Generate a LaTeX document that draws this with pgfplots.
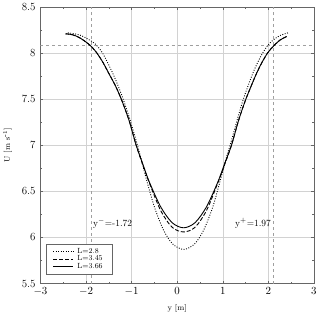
\documentclass[border=0pt]{standalone}
\usepackage{pgfplots}
\pgfplotsset{compat=1.18}
\begin{document}
\begin{tikzpicture}
\begin{axis}[
  scale only axis,
  width=274bp, height=277bp,
  xmin=-3, xmax=3, ymin=5.5, ymax=8.5,
  xtick={-3,-2,...,3}, ytick={5.5,6,...,8.5},
  yticklabels={5.5,6,6.5,7,7.5,8,8.5},
  minor x tick num=1, minor y tick num=1,
  tick align=inside, ticks=both,
  xtick pos=both, ytick pos=both,
  major tick length=3pt, minor tick length=2pt,
  grid=major,
  major grid style={gray!35, line width=0.5pt},
  axis line style={gray!80!black, line width=0.6pt},
  every tick/.style={gray!80!black},
  tick label style={font=\fontsize{11}{12}\selectfont},
  yticklabel style={xshift=-1.5pt},
  xticklabel style={yshift=-0.5pt},
  xlabel={y [m]}, ylabel={U [m s$^{\mbox{-}1}$]},
  label style={font=\fontsize{8}{9}\selectfont},
  xlabel style={yshift=-2pt},
  ylabel style={yshift=3pt},
  legend style={at={(0.022,0.032)}, anchor=south west, font=\fontsize{7.5}{8}\selectfont,
    draw=gray!80!black, fill=white, inner xsep=6pt, inner ysep=2.5pt, row sep=-3pt,
    nodes={inner xsep=4pt}},
  legend cell align=left,
  legend image code/.code={\draw[#1] (0bp,0bp) -- (20bp,0bp);},
]
% reference lines
\addplot[gray!75, dashed, line width=0.6pt, forget plot] coordinates {(-1.89,5.5) (-1.89,8.5)};
\addplot[gray!75, dashed, line width=0.6pt, forget plot] coordinates {(2.1,5.5) (2.1,8.5)};
\addplot[gray!75, dashed, line width=0.6pt, forget plot] coordinates {(-3,8.08) (3,8.08)};
% L=2.8
\addplot[black, dash pattern=on 0.9pt off 1.6pt, line width=0.9pt, smooth] coordinates {
(-2.4,8.22) (-2.25,8.21) (-2.1,8.19) (-1.95,8.15) (-1.8,8.1) (-1.65,8.01) (-1.5,7.87) (-1.35,7.71) (-1.2,7.52) (-1.05,7.3) (-0.9,7.05)
(-0.78,6.83) (-0.67,6.62) (-0.5,6.33) (-0.3,6.08) (-0.1,5.93) (0.14,5.87) (0.38,5.93) (0.58,6.08)
(0.78,6.33) (0.945,6.62) (1.07,6.85) (1.2,7.07) (1.33,7.3) (1.45,7.5) (1.58,7.68) (1.7,7.83) (1.85,7.98) (1.98,8.08) (2.1,8.14) (2.25,8.19) (2.43,8.22)};
\addlegendentry{L=2.8}
% L=3.45
\addplot[black, dash pattern=on 4pt off 2pt, line width=0.9pt, smooth] coordinates {
(-2.45,8.21) (-2.3,8.2) (-2.15,8.17) (-2.0,8.12) (-1.88,8.07) (-1.76,8.0) (-1.63,7.9) (-1.5,7.78) (-1.35,7.64) (-1.21,7.48) (-1.05,7.26) (-0.9,7.0)
(-0.75,6.78) (-0.61,6.59) (-0.36,6.29) (-0.11,6.11) (0.14,6.06) (0.39,6.11) (0.64,6.29)
(0.89,6.59) (1.04,6.79) (1.19,7.0) (1.34,7.26) (1.49,7.48) (1.62,7.64) (1.74,7.78) (1.86,7.9) (1.98,8.0) (2.1,8.07) (2.25,8.14) (2.4,8.18)};
\addlegendentry{L=3.45}
% L=3.66
\addplot[black, solid, line width=0.9pt, smooth] coordinates {
(-2.45,8.21) (-2.3,8.2) (-2.15,8.17) (-2.0,8.12) (-1.88,8.07) (-1.76,8.0) (-1.63,7.9) (-1.5,7.78) (-1.35,7.64) (-1.21,7.48) (-1.05,7.26) (-0.9,7.0)
(-0.75,6.79) (-0.61,6.6) (-0.36,6.33) (-0.11,6.16) (0.14,6.105) (0.39,6.16) (0.64,6.33)
(0.89,6.6) (1.04,6.8) (1.19,7.0) (1.34,7.26) (1.49,7.48) (1.62,7.64) (1.74,7.78) (1.86,7.9) (1.98,8.0) (2.1,8.07) (2.25,8.14) (2.4,8.18)};
\addlegendentry{L=3.66}
\node[anchor=west, inner sep=0pt, font=\fontsize{9.5}{10}\selectfont] at (axis cs:-1.85,6.15) {y$^{-}$=-1.72};
\node[anchor=east, inner sep=0pt, font=\fontsize{9.5}{10}\selectfont] at (axis cs:2.06,6.15) {y$^{+}$=1.97};
\end{axis}
\end{tikzpicture}
\end{document}
